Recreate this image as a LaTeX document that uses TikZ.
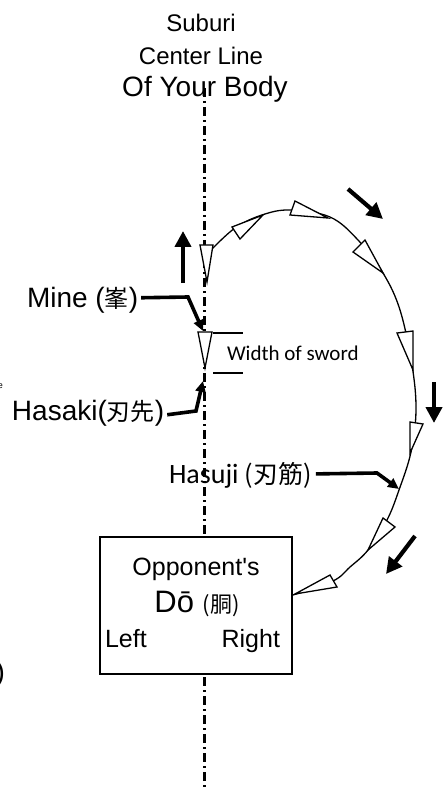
\documentclass[tikz,border=0pt]{standalone}
\usepackage{fontspec}
\setmainfont{Liberation Sans}
\newfontfamily\cjk{Noto Sans CJK JP}
\newfontfamily\calib{Carlito}
\usetikzlibrary{arrows.meta}
\newcommand{\fs}[1]{\fontsize{#1}{#1}\selectfont}
\begin{document}
\begin{tikzpicture}[x=1pt,y=-1pt,
  lbl/.style={inner sep=0pt,outer sep=0pt},
  motion/.style={line width=4.2pt,-{Triangle[length=16pt,width=16pt]}},
  leader/.style={line width=3.6pt,-{Triangle[length=11pt,width=10pt]}},
  blade/.style={draw,line width=1.3pt,fill=white,line join=miter},
  center/.style={line width=3pt,dash pattern=on 9pt off 4pt on 2pt off 4pt},
]
\useasboundingbox (0,0) rectangle (443,791);

% centre line
\coordinate (ctop) at (204,88);
\coordinate (cbot) at (204,788);
\draw[center] (ctop) -- (cbot);

% titles
\node[lbl,anchor=base] (t1) at (201,32) {\fs{24}Suburi};
\node[lbl,anchor=base] (t2) at (201,65) {\fs{24}Center Line};
\node[lbl,anchor=base] (t3) at (205,97) {\fs{28}Of Your Body};

% swing curve
\draw[line width=1.3pt] plot[smooth,tension=0.6] coordinates {
 (209,252) (235,228) (262,215) (290,210) (330,217) (358,240) (383,273)
 (400,310) (412,365) (416,410) (411,452) (399,490) (387,520) (368,550)
 (350,567) (333,581) (293,595)};

% blade triangles
\draw[blade] (200,245) -- (213,245) -- (207,282) -- cycle;
\draw[blade] (232,227) -- (240,239) -- (263,215) -- cycle;
\draw[blade] (295,201) -- (290,215) -- (328,218) -- cycle;
\draw[blade] (365,240) -- (353,252) -- (383,273) -- cycle;
\draw[blade] (397,333) -- (413,331) -- (413,370) -- cycle;
\draw[blade] (410,422) -- (423,424) -- (410,453) -- cycle;
\draw[blade] (383,518) -- (395,527) -- (368,550) -- cycle;
\draw[blade] (330,575) -- (337,587) -- (295,594) -- cycle;
\draw[blade] (198,332) -- (212,332) -- (205,368) -- cycle;

% width of sword
\coordinate (w1a) at (213,333); \coordinate (w1b) at (243,333);
\coordinate (w2a) at (213,373); \coordinate (w2b) at (243,373);
\draw[line width=1.2pt] (w1a) -- (w1b);
\draw[line width=1.2pt] (w2a) -- (w2b);
\node[lbl,anchor=base west] (wid) at (227,360) {\calib\fs{21}Width of sword};

% motion arrows
\coordinate (u1) at (183,283); \coordinate (u2) at (183,231);
\draw[motion] (u1) -- (u2);
\coordinate (d1a) at (348,189); \coordinate (d1b) at (383,219);
\draw[motion] (d1a) -- (d1b);
\coordinate (dn1) at (434,382); \coordinate (dn2) at (434,423);
\draw[motion] (dn1) -- (dn2);
\coordinate (d2a) at (415,536); \coordinate (d2b) at (386,574);
\draw[motion] (d2a) -- (d2b);

% labels with leaders
\node[lbl,anchor=base west] (mine) at (27,307) {\fs{28}Mine ({\cjk\fs{24}峯})};
\coordinate (m1) at (188,297); \coordinate (mt) at (203,331);
\draw[leader] (mine.east) ++(3,-2) coordinate (m0) -- (m1) -- (mt);

\node[lbl,anchor=base west] (hasaki) at (12,420) {\fs{28}Hasaki({\cjk\fs{24}刃先})};
\coordinate (h1) at (196,411); \coordinate (ht) at (203,381);
\draw[leader] (hasaki.east) ++(3,2) coordinate (h0) -- (h1) -- (ht);

\node[lbl,anchor=base west] (hasuji) at (169,483) {\calib\fs{28}Hasuji {\cjk\fs{25}(刃筋)}};
\coordinate (s1) at (377,473); \coordinate (st) at (399,489);
\draw[leader] (hasuji.east) ++(4,-1) coordinate (s0) -- (s1) -- (st);

% opponent box
\node[draw,line width=1.3pt,fill=white,minimum width=192pt,minimum height=137pt,inner sep=0pt] (box) at (196,605.5) {};
\node[lbl,anchor=base] (opp) at (196,575) {\fs{25}Opponent\textquotesingle s};
\node[lbl,anchor=base] (do) at (197,612) {\fs{31}Dō {\cjk\fs{22}(胴)}};
\node[lbl,anchor=base west] (left) at (105,647) {\fs{25}Left};
\node[lbl,anchor=base east] (right) at (280,647) {\fs{25}Right};

% edge fragments
\node[lbl,anchor=base east] (frag1) at (5,681) {\fs{28})};
\node[lbl,anchor=base east] (frag2) at (3,388) {\fs{9}e};
\end{tikzpicture}
\end{document}
